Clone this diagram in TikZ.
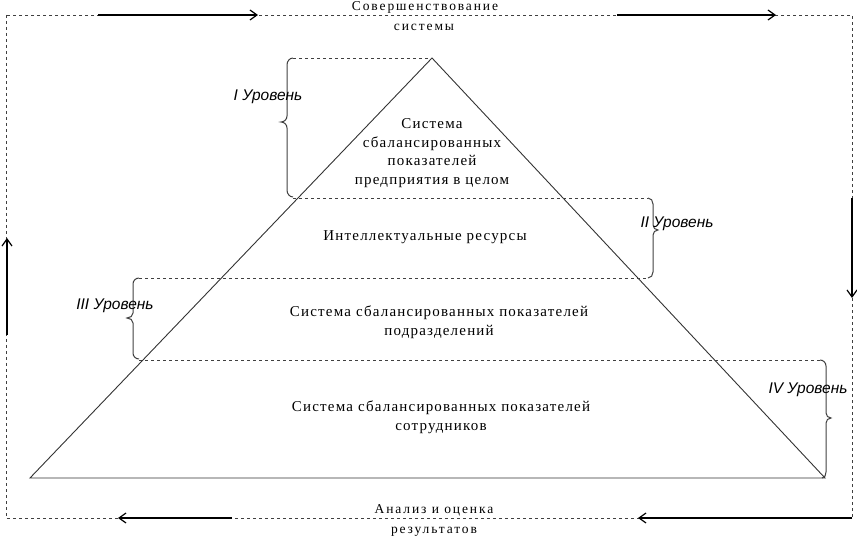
\documentclass[tikz,border=0pt]{standalone}
\usepackage{fontspec}
\setmainfont{Liberation Serif}
\newfontfamily\lblfont{Liberation Sans}
\newfontfamily\txtfont[LetterSpace=8]{Liberation Serif}
\newfontfamily\ttlfont[LetterSpace=14]{Liberation Serif}
\usetikzlibrary{arrows.meta}
\begin{document}
\begin{tikzpicture}[x=1pt,y=-1pt,
  dsh/.style={draw=black!75, line width=0.9pt, dash pattern=on 3pt off 3pt},
  arr/.style={draw=black, line width=1.2pt, -{Straight Barb[length=7pt,width=10pt]}},
  pyr/.style={draw=black!80, line width=0.9pt},
  brc/.style={draw=black!75, line width=1pt},
  lvl/.style={font=\lblfont\itshape\fontsize{15.5}{17}\selectfont, inner sep=0pt},
  txt/.style={font=\txtfont\fontsize{15}{18.5}\selectfont, align=center, inner sep=0pt},
  ttl/.style={font=\ttlfont\fontsize{13.5}{16}\selectfont, inner sep=0pt}]
\useasboundingbox (0,0) rectangle (857,537);
% outer frame
\coordinate (tl) at (6,15);
\coordinate (br) at (852,518);
\draw[dsh] (tl) rectangle (br);
\coordinate (t1s) at (98,15); \coordinate (t1e) at (258,15);
\coordinate (t2s) at (617,15); \coordinate (t2e) at (776,15);
\coordinate (b1s) at (232,518); \coordinate (b1e) at (118,518);
\coordinate (b2s) at (852,518); \coordinate (b2e) at (638,518);
\coordinate (l1s) at (7,335); \coordinate (l1e) at (7,238);
\coordinate (r1s) at (852,198); \coordinate (r1e) at (852,298);
\draw[arr] (t1s) -- (t1e);
\draw[arr] (t2s) -- (t2e);
\draw[arr] (b1s) -- (b1e);
\draw[arr] (b2s) -- (b2e);
\draw[arr] (l1s) -- (l1e);
\draw[arr] (r1s) -- (r1e);
\node[ttl, anchor=base] (top1) at (425,11) {Совершенствование};
\node[ttl, anchor=base] (top2) at (424,31) {системы};
\node[ttl, anchor=base] (bot1) at (434,513) {Анализ и оценка};
\node[ttl, anchor=base] (bot2) at (434,533) {результатов};
% pyramid
\coordinate (apex) at (432,58);
\coordinate (bl) at (30,478);
\coordinate (brp) at (825,478);
\draw[pyr] (apex) -- (brp) -- (bl) -- cycle;
% level lines
\draw[dsh] (293,58) -- (apex);
\draw[dsh] (293,198) -- (648,198);
\draw[dsh] (139,278) -- (648,278);
\draw[dsh] (139,360) -- (820,360);
% braces
\draw[brc] (293,58) to[out=180,in=90] (287,65) -- (287,116) to[out=270,in=0] (281,122) to[out=0,in=90] (287,128) -- (287,190) to[out=270,in=180] (293,197);
\draw[brc] (648,198) to[out=0,in=90] (653,204) -- (653,225) to[out=270,in=180] (658,230) to[out=180,in=90] (653,235) -- (653,272) to[out=270,in=0] (648,278);
\draw[brc] (139,278) to[out=180,in=90] (133,284) -- (133,313) to[out=270,in=0] (127,318) to[out=0,in=90] (133,323) -- (133,353) to[out=270,in=180] (139,359);
\draw[brc] (820,360) to[out=0,in=90] (826,366) -- (826,413) to[out=270,in=180] (831,418) to[out=180,in=90] (826,423) -- (826,472) to[out=270,in=0] (822,478);
% labels
\node[lvl] (l1) at (268,97) {I Уровень};
\node[lvl] (l2) at (677,224) {II Уровень};
\node[lvl] (l3) at (115,306) {III Уровень};
\node[lvl] (l4) at (808,390) {IV Уровень};
% texts
\node[txt] (p1) at (432,153) {Система\\сбалансированных\\показателей\\предприятия в целом};
\node[txt] (p2) at (425,237) {Интеллектуальные ресурсы};
\node[txt] (p3) at (439,322) {Система сбалансированных показателей\\подразделений};
\node[txt] (p4) at (441,417) {Система сбалансированных показателей\\сотрудников};
\end{tikzpicture}
\end{document}
